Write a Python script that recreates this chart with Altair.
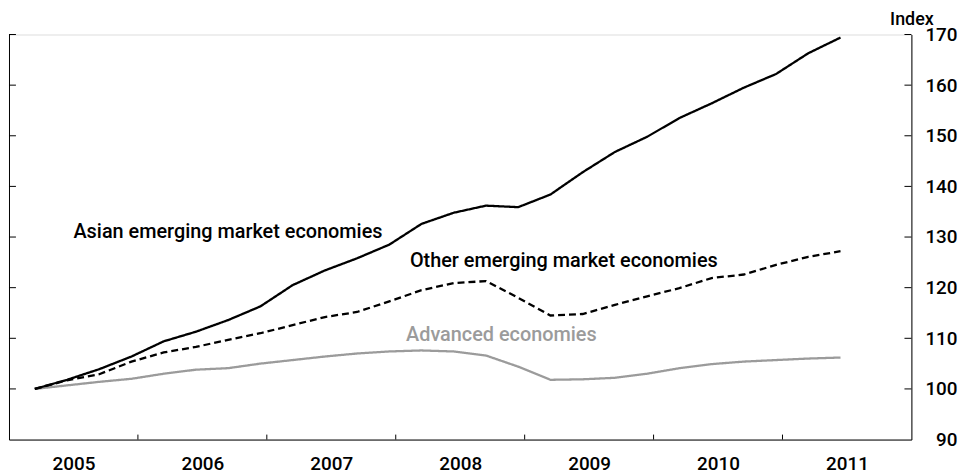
import altair as alt
import pandas as pd

quarters = ["2005Q1", "2005Q2", "2005Q3", "2005Q4", "2006Q1", "2006Q2", "2006Q3", "2006Q4",
            "2007Q1", "2007Q2", "2007Q3", "2007Q4", "2008Q1", "2008Q2", "2008Q3", "2008Q4",
            "2009Q1", "2009Q2", "2009Q3", "2009Q4", "2010Q1", "2010Q2", "2010Q3", "2010Q4",
            "2011Q1", "2011Q2"]
asian = [100.0, 101.8, 103.9, 106.4, 109.4, 111.3, 113.6, 116.3, 120.5, 123.4, 125.8, 128.5,
         132.6, 134.8, 136.2, 135.9, 138.4, 142.8, 146.8, 149.8, 153.5, 156.4, 159.5, 162.2,
         166.3, 169.4]
other = [100.0, 101.7, 102.9, 105.4, 107.2, 108.3, 109.7, 111.0, 112.6, 114.2, 115.2, 117.3,
         119.5, 120.9, 121.3, 118.0, 114.5, 114.8, 116.6, 118.3, 119.9, 121.9, 122.6, 124.5,
         126.1, 127.2]
advanced = [100.0, 100.7, 101.4, 102.0, 103.0, 103.8, 104.1, 105.0, 105.7, 106.4, 107.0, 107.4,
            107.6, 107.4, 106.6, 104.4, 101.8, 101.9, 102.2, 103.0, 104.1, 104.9, 105.4, 105.7,
            106.0, 106.2]
series_names = ["Advanced economies", "Other emerging market economies", "Asian emerging market economies"]
year_labels = [2005, 2006, 2007, 2008, 2009, 2010, 2011]
year_bounds = [2006, 2007, 2008, 2009, 2010, 2011]
y_tick_values = [90, 100, 110, 120, 130, 140, 150, 160, 170]
y_inner_ticks = [100, 110, 120, 130, 140, 150, 160, 170]

label_texts = ["Asian emerging market economies", "Other emerging market economies", "Advanced economies"]
label_t = [2005.50, 2008.11, 2008.08]
label_v = [129.9, 124.1, 109.4]
label_colors = ["#000000", "#000000", "#9b9b9b"]

W, H = 909, 408
FONT = "Roboto"


def qpos(q):
    return int(q[:4]) + (int(q[-1]) - 1) / 4 + 0.2


rows = []
for name, vals in zip(series_names, [advanced, other, asian]):
    for q, v in zip(quarters, vals):
        rows.append({"series": name, "t": qpos(q), "v": v})
lines_df = pd.DataFrame(rows)

xscale = alt.Scale(domain=[2005, 2012], nice=False, zero=False)
yscale = alt.Scale(domain=[90, 170], nice=False, zero=False)

lines = alt.Chart(lines_df).mark_line(strokeWidth=2.3, strokeCap="butt").encode(
    x=alt.X("t:Q", scale=xscale,
            axis=alt.Axis(values=[y + 0.5 for y in year_labels], labelExpr="floor(datum.value)",
                          ticks=False, grid=False, domainColor="black", domainWidth=1,
                          labelFontSize=19, labelPadding=15, labelColor="black",
                          labelFlush=False, labelFont=FONT, labelFontWeight=500, title=None)),
    y=alt.Y("v:Q", scale=yscale,
            axis=alt.Axis(orient="left", labels=False, ticks=False, grid=False,
                          domainColor="black", domainWidth=1, title=None)),
    color=alt.Color("series:N", scale=alt.Scale(domain=series_names,
                                                range=["#9b9b9b", "#000000", "#000000"]), legend=None),
    strokeDash=alt.StrokeDash("series:N", scale=alt.Scale(domain=series_names,
                                                          range=[[1, 0], [7, 4], [1, 0]]), legend=None),
    detail="series:N",
)

ticks_df = pd.DataFrame({"v": y_inner_ticks})
right_ticks = alt.Chart(ticks_df).mark_rule(color="black", strokeWidth=1).encode(
    y=alt.Y("v:Q", scale=yscale,
            axis=alt.Axis(orient="right", values=y_tick_values, ticks=False, grid=False,
                          domainColor="black", domainWidth=1, labelAlign="right",
                          labelBaseline="middle", labelPadding=46, labelFontSize=19,
                          labelColor="black", labelFont=FONT, labelFontWeight=500,
                          labelFlush=False,
                          title="Index", titleAngle=0, titleX=0, titleY=-10,
                          titleAlign="center", titleBaseline="alphabetic", titleFontSize=18,
                          titleFont=FONT, titleFontWeight=500, titleColor="black")),
    x=alt.value(W - 7), x2=alt.value(W),
)
left_ticks = alt.Chart(ticks_df).mark_rule(color="black", strokeWidth=1).encode(
    y=alt.Y("v:Q", scale=yscale, axis=None),
    x=alt.value(0), x2=alt.value(7),
)
xt_df = pd.DataFrame({"t": year_bounds})
bottom_ticks = alt.Chart(xt_df).mark_rule(color="black", strokeWidth=1).encode(
    x=alt.X("t:Q", scale=xscale),
    y=alt.value(H - 5), y2=alt.value(H),
)

lab_df = pd.DataFrame({"label": label_texts, "t": label_t, "v": label_v, "c": label_colors})
labels = alt.Chart(lab_df).mark_text(align="left", baseline="alphabetic", fontSize=20,
                                     font=FONT, fontWeight=500).encode(
    x=alt.X("t:Q", scale=xscale),
    y=alt.Y("v:Q", scale=yscale, axis=None),
    text="label:N",
    color=alt.Color("c:N", scale=None),
)

chart = alt.layer(lines, right_ticks, left_ticks, bottom_ticks, labels).resolve_axis(
    y="independent"
).properties(
    width=W, height=H,
    autosize=alt.AutoSizeParams(type="none"),
    padding={"left": 1, "top": 25, "right": 56, "bottom": 35},
).configure_view(stroke=None).configure(font=FONT)

chart.save("out.html", embed_options={"renderer": "svg", "actions": False})
